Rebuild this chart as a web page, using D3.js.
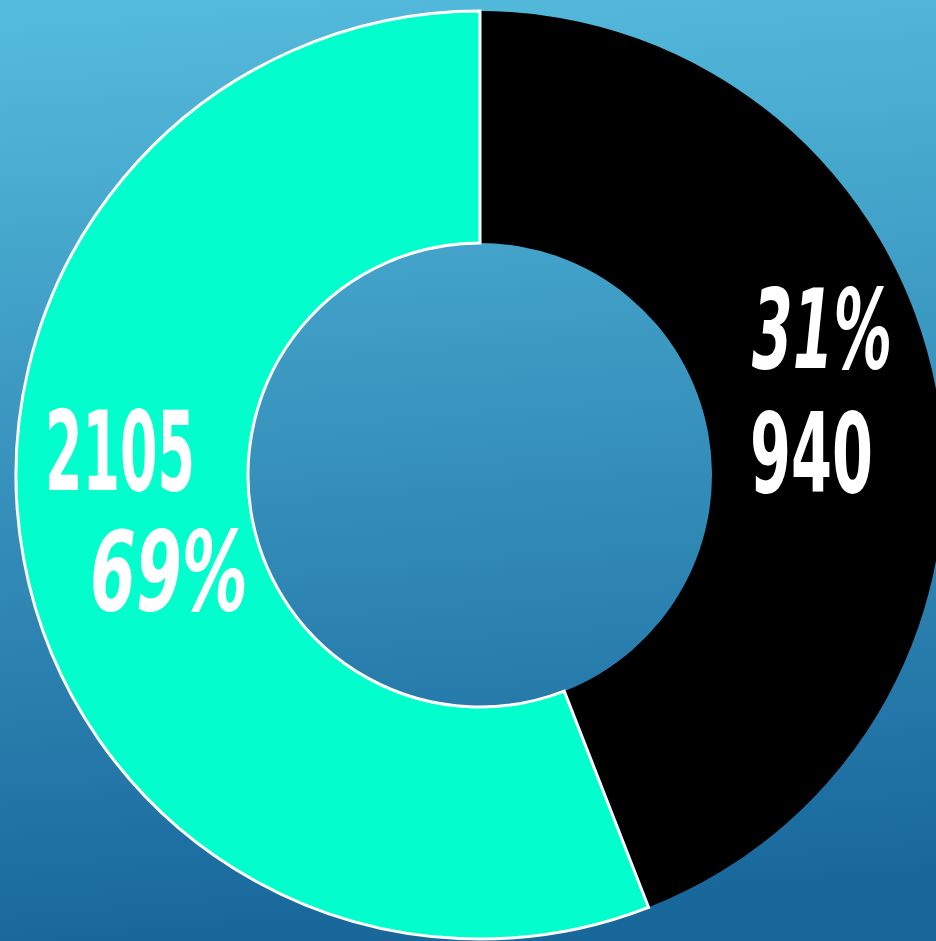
<!DOCTYPE html>
<html><head><meta charset="utf-8">
<script src="https://cdn.jsdelivr.net/npm/d3@7"></script>
<style>html,body{margin:0;padding:0;overflow:hidden;background:#2a80b0}</style>
</head><body>
<svg id="c" width="936" height="941"></svg>
<script>
const categories = ["A", "B"];
const values = [940, 2105];
// angular share of each slice as drawn in the picture (degrees)
const sliceDegrees = [158.7, 201.3];
const colors = ["#000000", "#02fecd"];

const W = 936, H = 941;
const cx = 480, cy = 475, rOuter = 464, rInner = 232;
const svg = d3.select("#c");
const defs = svg.append("defs");
const g = defs.append("linearGradient").attr("id","bg").attr("x1","0").attr("y1","0").attr("x2","0.08").attr("y2","1");
g.append("stop").attr("offset","0").attr("stop-color","#55bcdd");
g.append("stop").attr("offset","1").attr("stop-color","#19689c");
svg.append("rect").attr("width",W).attr("height",H).attr("fill","url(#bg)");

const pie = d3.pie().sort(null).value((d,i)=>sliceDegrees[i]);
const arcs = pie(categories);
const arc = d3.arc().innerRadius(rInner).outerRadius(rOuter);
const root = svg.append("g").attr("transform",`translate(${cx},${cy})`);
root.selectAll("path").data(arcs).join("path")
  .attr("d", arc)
  .attr("fill",(d,i)=>colors[i])
  .attr("stroke",(d,i)=> i===1 ? "#ffffff" : "none")
  .attr("stroke-width",3)
  .attr("stroke-linejoin","miter");

const total = d3.sum(values);
const pct = values.map(v => Math.round(v/total*100) + "%");
const font = "'Liberation Sans Narrow','DejaVu Sans Condensed',sans-serif";
const labels = [
  {t: pct[0], x: 752, y: 368, w: 140, italic: true},
  {t: String(values[0]), x: 750, y: 492, w: 123, italic: false},
  {t: String(values[1]), x: 45, y: 490, w: 150, italic: false},
  {t: pct[1], x: 90, y: 610, w: 158, italic: true}
];
svg.selectAll("text.lbl").data(labels).join("text")
  .attr("class","lbl")
  .attr("x", d=>d.x).attr("y", d=>d.y)
  .attr("font-family", font)
  .attr("font-weight","bold")
  .attr("font-style", d=>d.italic?"italic":"normal")
  .attr("font-size", 111)
  .attr("fill","#ffffff")
  .attr("textLength", d=>d.w)
  .attr("lengthAdjust","spacingAndGlyphs")
  .text(d=>d.t);
</script>
</body></html>
